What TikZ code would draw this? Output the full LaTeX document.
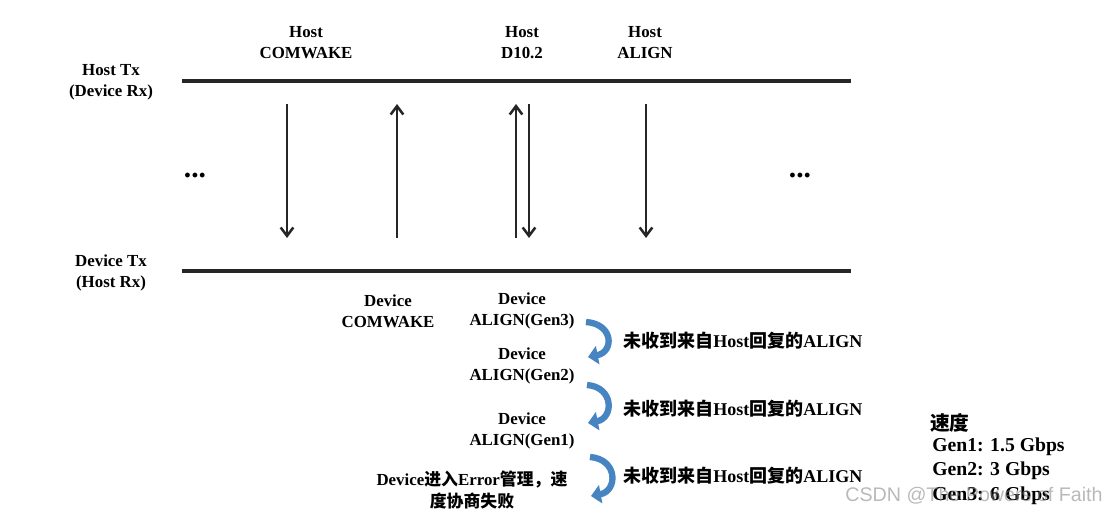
\documentclass[tikz,border=0pt]{standalone}
\usepackage{fontspec}
\setmainfont{Liberation Serif}
\newfontfamily\cjk{Noto Sans CJK SC}
\newfontfamily\wmfont{Liberation Sans}
\usetikzlibrary{arrows.meta}
\definecolor{linegray}{RGB}{38,38,38}
\definecolor{retryblue}{RGB}{70,132,194}

\newcommand{\zh}[1]{{\cjk\bfseries #1}}

\tikzset{
  lbl/.style={font=\bfseries\fontsize{12}{15}\selectfont, align=center, inner sep=0pt},
  note/.style={font=\bfseries\fontsize{12.8}{16}\selectfont, anchor=west, inner sep=0pt},
  legend/.style={font=\bfseries\fontsize{14}{17}\selectfont, anchor=west, inner sep=0pt},
  busline/.style={line width=2.8pt, linegray},
  sig/.style={line width=1.8pt, linegray, -{Straight Barb[length=6pt,width=9pt]}},
  retry/.style={line width=4.5pt, retryblue, -{Triangle[length=7pt,width=13pt]}},
}

\begin{document}
\begin{tikzpicture}[x=0.025cm, y=-0.025cm]
\useasboundingbox (0,0) rectangle (1112,517);

%---------------------------------------
% Lanes
%---------------------------------------
\def\Ltx{81}
\def\Lrx{271}
\def\Xl{182}
\def\Xr{851}

\coordinate (txL) at (\Xl,\Ltx);
\coordinate (txR) at (\Xr,\Ltx);
\coordinate (rxL) at (\Xl,\Lrx);
\coordinate (rxR) at (\Xr,\Lrx);

\draw[busline] (txL) -- (txR);
\draw[busline] (rxL) -- (rxR);

\node[lbl] (hosttx) at (111,82) {Host Tx\\(Device Rx)};
\node[lbl] (devtx)  at (111,273) {Device Tx\\(Host Rx)};

\node[lbl, font=\bfseries\fontsize{21}{21}\selectfont] (dotsL) at (195,176) {...};
\node[lbl, font=\bfseries\fontsize{21}{21}\selectfont] (dotsR) at (800,176) {...};

%---------------------------------------
% OOB / speed signals
%---------------------------------------
\foreach \n/\x in {hcw/287, dcw/397, dal/516, hd/529, hal/646} {
  \coordinate (\n-t) at (\x,104);
  \coordinate (\n-b) at (\x,238);
}

\draw[sig] (hcw-t) -- (hcw-b);   % Host COMWAKE
\draw[sig] (dcw-b) -- (dcw-t);   % Device COMWAKE
\draw[sig] (dal-b) -- (dal-t);   % Device ALIGN
\draw[sig] (hd-t)  -- (hd-b);    % Host D10.2
\draw[sig] (hal-t) -- (hal-b);   % Host ALIGN

\node[lbl] (hcwl) at (306,43) {Host\\COMWAKE};
\node[lbl] (hdl)  at (522,43) {Host\\D10.2};
\node[lbl] (hall) at (645,43) {Host\\ALIGN};

\node[lbl] (dcwl) at (388,311) {Device\\COMWAKE};
\node[lbl] (gen3) at (522,311) {Device\\ALIGN(Gen3)};
\node[lbl] (gen2) at (522,366) {Device\\ALIGN(Gen2)};
\node[lbl] (gen1) at (522,431) {Device\\ALIGN(Gen1)};
\node[lbl] (fail) at (472,490) {Device\zh{进入}Error\zh{管理，速}\\\zh{度协商失败}};

%---------------------------------------
% Speed fallback
%---------------------------------------
\coordinate (r3s) at (586,322);  \coordinate (r3e) at (588,357);
\coordinate (r2s) at (587,385);  \coordinate (r2e) at (588,423);
\coordinate (r1s) at (590,457);  \coordinate (r1e) at (591,496);

\draw[retry] (r3s) .. controls (614,324) and (614,352) .. (r3e);
\draw[retry] (r2s) .. controls (614,387) and (614,418) .. (r2e);
\draw[retry] (r1s) .. controls (618,459) and (618,491) .. (r1e);

\node[note] (miss3) at (623,341) {\zh{未收到来自}Host\zh{回复的}ALIGN};
\node[note] (miss2) at (623,409) {\zh{未收到来自}Host\zh{回复的}ALIGN};
\node[note] (miss1) at (623,476) {\zh{未收到来自}Host\zh{回复的}ALIGN};

%---------------------------------------
% Legend
%---------------------------------------
\node[legend] (speed) at (930,423) {\zh{速度}};
\node[legend] (sg1) at (932,447) {Gen1: 1.5 Gbps};
\node[legend] (sg2) at (932,471) {Gen2: 3 Gbps};
\node[legend] (sg3) at (932,496) {Gen3: 6 Gbps};

\node[anchor=west, inner sep=0pt, font=\wmfont\fontsize{14}{16}\selectfont,
      text=gray, opacity=0.55] (mark) at (845,496) {CSDN @The Powers of Faith};

\end{tikzpicture}
\end{document}
